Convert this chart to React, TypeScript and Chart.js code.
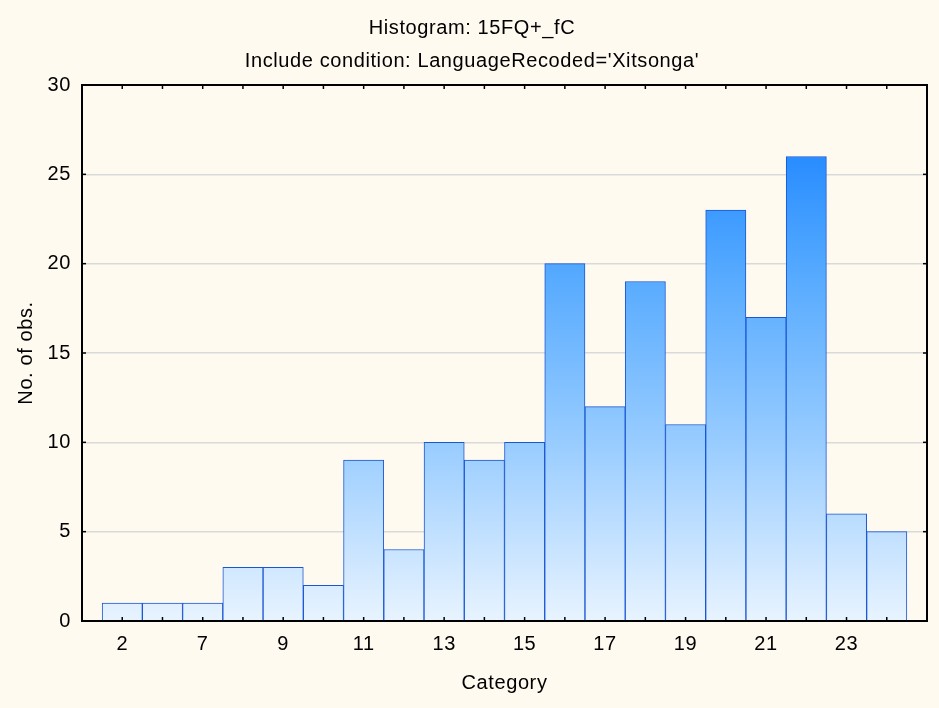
import { useEffect, useRef } from "react";
import { Chart, registerables } from "chart.js";

Chart.register(...registerables);

const categories = ["2", "6", "7", "8", "9", "10", "11", "12", "13", "14", "15", "16", "17", "18", "19", "20", "21", "22", "23", "24"];
const counts = [1, 1, 1, 3, 3, 2, 9, 4, 10, 9, 10, 20, 12, 19, 11, 23, 17, 26, 6, 5];
const yTicks = [0, 5, 10, 15, 20, 25, 30];
const titleLines = ["Histogram: 15FQ+_fC", "Include condition: LanguageRecoded='Xitsonga'"];
const xTitle = "Category";
const yTitle = "No. of obs.";

const FONT = '"Liberation Sans", Arial, sans-serif';
const FS = 20;

const spacingPlugin = {
  id: "spacing",
  beforeDraw(chart: any) {
    (chart.ctx as any).letterSpacing = "0.6px";
  },
};

const framePlugin = {
  id: "frameAndTitles",
  afterDraw(chart: any) {
    const { ctx, chartArea: a, scales } = chart;
    ctx.save();
    ctx.strokeStyle = "#000";
    ctx.lineWidth = 2;
    ctx.strokeRect(a.left, a.top, a.right - a.left, a.bottom - a.top);
    ctx.lineWidth = 1.5;
    const line = (x1: number, y1: number, x2: number, y2: number) => {
      ctx.beginPath();
      ctx.moveTo(x1, y1);
      ctx.lineTo(x2, y2);
      ctx.stroke();
    };
    for (let i = 1; i <= categories.length; i++) {
      const x = scales.x.getPixelForValue(i);
      line(x, a.bottom, x, a.bottom - 4);
      line(x, a.top, x, a.top + 4);
    }
    for (const v of yTicks) {
      const y = scales.y.getPixelForValue(v);
      line(a.left, y, a.left + 4, y);
      line(a.right, y, a.right - 4, y);
    }
    ctx.fillStyle = "#000";
    ctx.font = `${FS}px ${FONT}`;
    (ctx as any).letterSpacing = "0.6px";
    ctx.textAlign = "center";
    ctx.textBaseline = "alphabetic";
    ctx.fillText(titleLines[0], 472, 34);
    ctx.fillText(titleLines[1], 472, 67);
    ctx.fillText(xTitle, (a.left + a.right) / 2, 689);
    ctx.translate(32, (a.top + a.bottom) / 2);
    ctx.rotate(-Math.PI / 2);
    ctx.fillText(yTitle, 0, 0);
    ctx.restore();
  },
};

export default function App() {
  const ref = useRef<HTMLCanvasElement | null>(null);

  useEffect(() => {
    document.body.style.margin = "0";
    const canvas = ref.current;
    if (!canvas) return;
    const chart = new Chart(canvas, {
      type: "bar",
      data: {
        datasets: [
          {
            data: counts.map((c, i) => ({ x: i + 1, y: c })),
            backgroundColor: (ctx: any) => {
              const area = ctx.chart.chartArea;
              if (!area) return "#9cf";
              const g = ctx.chart.ctx.createLinearGradient(0, area.top, 0, area.bottom);
              g.addColorStop(0, "rgb(22,130,255)");
              g.addColorStop(0.13, "rgb(40,140,255)");
              g.addColorStop(0.336, "rgb(82,168,255)");
              g.addColorStop(0.668, "rgb(152,204,255)");
              g.addColorStop(0.97, "rgb(225,240,255)");
              g.addColorStop(1, "rgb(232,244,255)");
              return g;
            },
            borderColor: "#1a56d4",
            borderWidth: 1,
            barPercentage: 1,
            categoryPercentage: 1,
          } as any,
        ],
      },
      options: {
        animation: false,
        responsive: false,
        maintainAspectRatio: false,
        layout: { padding: { left: 0, right: 12, top: 85, bottom: 0 } },
        plugins: {
          legend: { display: false },
          tooltip: { enabled: false },
          title: { display: false },
        },
        scales: {
          x: {
            type: "linear",
            min: 0,
            max: categories.length + 1,
            offset: false,
            grid: { display: false, drawTicks: false },
            border: { display: false },
            ticks: {
              stepSize: 1,
              autoSkip: false,
              maxRotation: 0,
              padding: 11,
              color: "#000",
              font: { family: FONT, size: FS },
              callback: (v: any) => {
                const n = Number(v);
                return n >= 1 && n <= categories.length && n % 2 === 1 ? categories[n - 1] : "";
              },
            },
            afterFit: (s: any) => {
              s.height = 87;
              s.paddingLeft = 0;
              s.paddingRight = 0;
            },
          },
          y: {
            min: 0,
            max: 30,
            grid: {
              drawTicks: false,
              lineWidth: 1.5,
              color: (c: any) => (c.tick && (c.tick.value === 0 || c.tick.value === 30) ? "rgba(0,0,0,0)" : "#d9d9d9"),
            },
            border: { display: false },
            ticks: {
              stepSize: 5,
              padding: 11,
              color: "#000",
              font: { family: FONT, size: FS },
            },
            afterFit: (s: any) => {
              s.width = 82;
              s.paddingTop = 0;
              s.paddingBottom = 0;
            },
          },
        },
      } as any,
      plugins: [spacingPlugin, framePlugin],
    });
    return () => chart.destroy();
  }, []);

  return (
    <div style={{ width: 939, height: 708, background: "#FFFAF0" }}>
      <canvas ref={ref} width={939} height={708} style={{ display: "block", width: 939, height: 708 }} />
    </div>
  );
}
